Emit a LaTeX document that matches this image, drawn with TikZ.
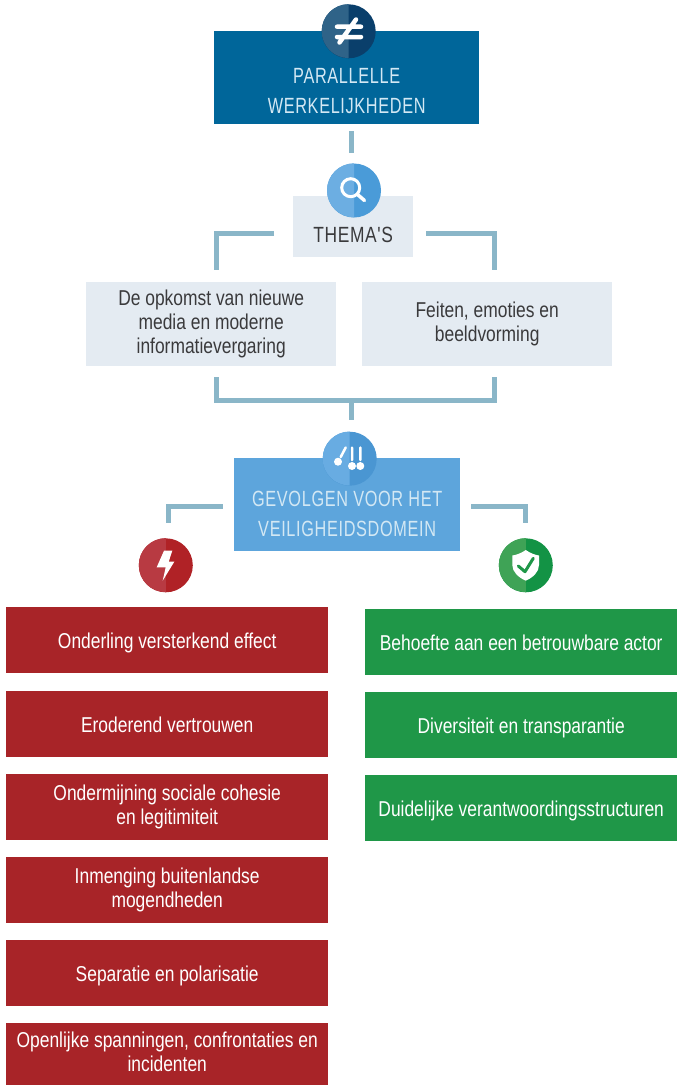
\documentclass[tikz,border=0pt]{standalone}
\usepackage{fontspec}
\setmainfont[FakeStretch=0.81]{Liberation Sans}
\newfontfamily\capsfont[FakeStretch=0.74,LetterSpace=3]{Liberation Sans}
\newfontfamily\themafont[FakeStretch=0.79,LetterSpace=3]{Liberation Sans}
\definecolor{topblue}{HTML}{00669A}
\definecolor{midblue}{HTML}{5DA5DC}
\definecolor{pale}{HTML}{E4EBF2}
\definecolor{linec}{HTML}{8AB6C8}
\definecolor{redbox}{HTML}{A82428}
\definecolor{greenbox}{HTML}{1F9748}
\definecolor{captext}{HTML}{D3E8F4}
\definecolor{darktext}{HTML}{3A3A3C}
\definecolor{iaR}{RGB}{10,63,107}
\definecolor{iaL}{RGB}{47,99,136}
\definecolor{ibR}{RGB}{74,155,216}
\definecolor{ibL}{RGB}{108,174,226}
\definecolor{icR}{RGB}{74,150,210}
\definecolor{icL}{RGB}{104,172,226}
\definecolor{idR}{RGB}{176,34,38}
\definecolor{idL}{RGB}{184,58,66}
\definecolor{ieR}{RGB}{19,147,69}
\definecolor{ieL}{RGB}{63,163,86}
\tikzset{
  x=1pt,y=-1pt,
  boxbase/.style={draw=none,inner sep=0pt,align=center,anchor=north west,font=\fontsize{21.5}{24}\selectfont,
    execute at begin node={\rule{0pt}{21pt}},execute at end node={\rule[-5pt]{0pt}{5pt}}},
  redb/.style={boxbase,fill=redbox,text=white,minimum width=322pt,minimum height=66pt},
  greenb/.style={boxbase,fill=greenbox,text=white,minimum width=312pt,minimum height=66pt},
  themeb/.style={boxbase,fill=pale,text=darktext,minimum width=250pt,minimum height=84pt},
  capsb/.style={draw=none,inner sep=0pt,align=center,anchor=north west,text=captext,font=\capsfont\fontsize{22}{30}\selectfont},
  conn/.style={draw=linec,line width=5pt,line cap=butt,line join=miter},
  iconc/.style={circle,draw=none,inner sep=0pt,minimum size=54pt},
  glyph/.style={draw=white,line width=3pt,line cap=round},
}
\newcommand{\lefthalf}[2]{\fill[#2] (#1.north) arc[start angle=90,end angle=270,radius=27pt] -- cycle;}
\begin{document}
\begin{tikzpicture}
\useasboundingbox (0,0) rectangle (677,1085);
% boxes
\node[capsb,fill=topblue,minimum width=265pt,minimum height=93pt] (top) at (214,31) {\rule{0pt}{46pt}PARALLELLE\\WERKELIJKHEDEN\rule[-5pt]{0pt}{5pt}};
\node[capsb,fill=pale,text=darktext,minimum width=120pt,minimum height=61pt,font=\themafont\fontsize{22}{30}\selectfont] (thema) at (293,196) {\rule{0pt}{36pt}THEMA'S\rule[-5pt]{0pt}{5pt}};
\node[themeb] (t1) at (86,282) {De opkomst van nieuwe\\media en moderne\\informatievergaring};
\node[themeb] (t2) at (362,282) {Feiten, emoties en\\beeldvorming};
\node[capsb,fill=midblue,minimum width=226pt,minimum height=93pt] (gev) at (234,458) {\rule{0pt}{38pt}GEVOLGEN VOOR HET\\VEILIGHEIDSDOMEIN\rule[-5pt]{0pt}{5pt}};
\node[redb] (r1) at (6,607) {Onderling versterkend effect};
\node[redb] (r2) at (6,691) {Eroderend vertrouwen};
\node[redb] (r3) at (6,774) {Ondermijning sociale cohesie\\en legitimiteit};
\node[redb] (r4) at (6,857) {Inmenging buitenlandse\\mogendheden};
\node[redb] (r5) at (6,940) {Separatie en polarisatie};
\node[redb,minimum height=62pt] (r6) at (6,1023) {Openlijke spanningen, confrontaties en\\incidenten};
\node[greenb] (g1) at (365,609) {Behoefte aan een betrouwbare actor};
\node[greenb] (g2) at (365,692) {Diversiteit en transparantie};
\node[greenb] (g3) at (365,775) {Duidelijke verantwoordingsstructuren};
% connector ends
\coordinate (a1) at (351,131); \coordinate (a2) at (351,153);
\coordinate (b1) at (274,233.5); \coordinate (b2) at (216,233.5); \coordinate (b3) at (216,270);
\coordinate (c1) at (426,233.5); \coordinate (c2) at (494.5,233.5); \coordinate (c3) at (494.5,270);
\coordinate (d1) at (216,377); \coordinate (d2) at (216,400.5); \coordinate (d3) at (494.5,400.5); \coordinate (d4) at (494.5,377);
\coordinate (e1) at (351,400.5); \coordinate (e2) at (351,420);
\coordinate (f1) at (222.5,506.5); \coordinate (f2) at (168,506.5); \coordinate (f3) at (168,523);
\coordinate (h1) at (471,506.5); \coordinate (h2) at (525,506.5); \coordinate (h3) at (525,523);
\draw[conn] (a1) -- (a2);
\draw[conn] (b1) -- (b2) -- (b3);
\draw[conn] (c1) -- (c2) -- (c3);
\draw[conn] (d1) -- (d2) -- (d3) -- (d4);
\draw[conn] (e1) -- (e2);
\draw[conn] (f1) -- (f2) -- (f3);
\draw[conn] (h1) -- (h2) -- (h3);
% icon: not equal
\node[iconc,fill=iaR] (i1) at (348.7,31.3) {};
\lefthalf{i1}{iaL}
\draw[glyph,line width=4.5pt] (337,26.7) -- (361,26.7) (337,37) -- (361,37) (339.5,42.5) -- (356,19.5);
% icon: search
\node[iconc,fill=ibR] (i2) at (354,190.5) {};
\lefthalf{i2}{ibL}
\draw[white,line width=3pt] (350.7,187.7) circle (9pt);
\draw[glyph,line width=3.5pt] (357.5,194.5) -- (364.5,200.5);
% icon: pendulum
\node[iconc,fill=icR] (i3) at (349.7,458.7) {};
\lefthalf{i3}{icL}
\draw[glyph,line width=2.5pt] (340.7,457) -- (345.7,447.5) (352,447.5) -- (352,460) (360.3,447.5) -- (360.3,460);
\fill[white] (338,461.7) circle (4pt) (352,466) circle (4pt) (360.3,466) circle (4pt);
% icon: lightning
\node[iconc,fill=idR] (i4) at (165.8,565.3) {};
\lefthalf{i4}{idL}
\fill[white] (164,550.7) -- (172.3,550.7) -- (168.7,561.7) -- (174.3,561.7) -- (162.7,580.7) -- (165.7,567.3) -- (156.7,567.3) -- cycle;
% icon: shield
\node[iconc,fill=ieR] (i5) at (525.8,565.3) {};
\lefthalf{i5}{ieL}
\fill[white] (525.8,550) .. controls (530,553) and (535,555) .. (539,555.5) -- (539,565) .. controls (539,572) and (533,577.5) .. (525.8,580.7) .. controls (518.5,577.5) and (512.3,572) .. (512.3,565) -- (512.3,555.5) .. controls (516.5,555) and (521.5,553) .. (525.8,550) -- cycle;
\draw[draw=greenbox,line width=3pt,line cap=round,line join=round] (518.3,566) -- (525,571.7) -- (533.3,558.3);
\end{tikzpicture}
\end{document}
